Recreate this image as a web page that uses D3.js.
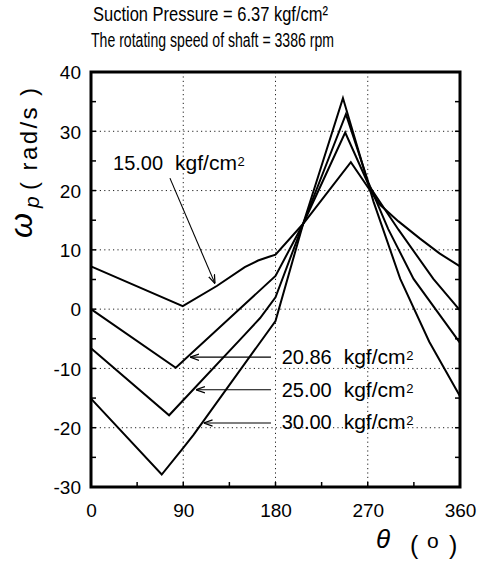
<!DOCTYPE html>
<html><head><meta charset="utf-8">
<script src="https://cdn.jsdelivr.net/npm/d3@7"></script>
<style>
html,body{margin:0;padding:0;background:#fff;}
svg{display:block;}
text{font-family:"Liberation Sans",Arial,Helvetica,sans-serif;fill:#000;}
</style></head>
<body>
<script>
// ---- data (theta in degrees, omega_p in rad/s) ----
const theta15 = [0, 89.5, 122.7, 150, 163, 173, 180, 207, 253.5, 270, 282, 300, 321, 340, 360];
const omega15 = [7.2, 0.5, 3.9, 7.1, 8.2, 8.8, 9.2, 14.4, 24.8, 20.6, 17.6, 14.8, 11.9, 9.4, 7.2];
const theta2086 = [0, 82.7, 180, 207, 248, 271, 300, 334, 360];
const omega2086 = [0, -9.9, 5.6, 14.4, 29.8, 20.9, 13.4, 5.1, -0.2];
const theta25 = [0, 76.2, 150, 165, 180, 207, 248.7, 271, 290, 314.7, 360];
const omega25 = [-6.6, -17.9, -4.3, -1.5, 2.0, 14.4, 32.9, 21.2, 13.5, 5.1, -5.7];
const theta30 = [0, 69, 90, 100, 180, 207, 245.8, 275.7, 301.7, 330, 360];
const omega30 = [-15.1, -27.9, -23.4, -21.2, -2.0, 14.4, 35.6, 18.1, 5.1, -5.5, -14.7];

const seriesNames = ["15.00", "20.86", "25.00", "30.00"];
const xTicks = [0, 90, 180, 270, 360];
const yTicks = [-30, -20, -10, 0, 10, 20, 30, 40];
const titleLines = ["Suction Pressure = 6.37 kgf/cm²", "The rotating speed of shaft = 3386 rpm"];

// annotation anchors in data units: [tailTheta, tailOmega, tipTheta, tipOmega, textTheta, textOmega]
const annot15 = [77, 22.1, 121, 4.3, 21.5, 23.5];
const annot2086 = [175.6, -8.1, 96.6, -8.1, 186, -9.3];
const annot25 = [175.6, -13.6, 102.4, -13.6, 186, -14.9];
const annot30 = [175.6, -19.2, 109.8, -19.2, 186, -20.3];

// ---- chart ----
const W = 485, H = 565;
const svg = d3.select("body").append("svg").attr("width", W).attr("height", H);
const x = d3.scaleLinear().domain([0, 360]).range([91, 460]);
const y = d3.scaleLinear().domain([-30, 40]).range([487, 72]);

// grid
const grid = svg.append("g").attr("stroke", "#222").attr("stroke-width", 1).attr("stroke-dasharray", "1.2,3.2");
grid.selectAll(".gx").data(xTicks.slice(1, -1)).join("line")
  .attr("x1", d => x(d)).attr("x2", d => x(d)).attr("y1", y(40)).attr("y2", y(-30));
grid.selectAll(".gy").data(yTicks.slice(1, -1)).join("line")
  .attr("x1", x(0)).attr("x2", x(360)).attr("y1", d => y(d)).attr("y2", d => y(d));

// ticks inside
const tk = svg.append("g").attr("stroke", "#000").attr("stroke-width", 1.5);
const yMinor = d3.range(-25, 40, 5);
tk.selectAll(".tl").data(yMinor).join("line")
  .attr("x1", x(0)).attr("x2", x(0) + 5).attr("y1", d => y(d)).attr("y2", d => y(d));
tk.selectAll(".tr").data(yMinor).join("line")
  .attr("x1", x(360)).attr("x2", x(360) - 5).attr("y1", d => y(d)).attr("y2", d => y(d));
const xMinor = d3.range(45, 360, 45);
tk.selectAll(".tb").data(xMinor).join("line")
  .attr("x1", d => x(d)).attr("x2", d => x(d)).attr("y1", y(-30)).attr("y2", y(-30) - 5);

// curves
const line = d3.line().x(d => x(d[0])).y(d => y(d[1]));
const series = [
  d3.zip(theta15, omega15), d3.zip(theta2086, omega2086),
  d3.zip(theta25, omega25), d3.zip(theta30, omega30)
];
svg.append("g").selectAll("path").data(series).join("path")
  .attr("d", line).attr("fill", "none").attr("stroke", "#000")
  .attr("stroke-width", 2).attr("stroke-linejoin", "miter");

// frame
svg.append("rect").attr("x", x(0)).attr("y", y(40))
  .attr("width", x(360) - x(0)).attr("height", y(-30) - y(40))
  .attr("fill", "none").attr("stroke", "#000").attr("stroke-width", 3);

// axes labels via d3 axes
const ax = svg.append("g").attr("transform", `translate(0,${y(-30)})`)
  .call(d3.axisBottom(x).tickValues(xTicks).tickSize(0).tickPadding(0).tickFormat(d3.format("d")));
ax.select(".domain").remove();
ax.selectAll("text").attr("font-size", 19).attr("font-family", "Liberation Sans, Arial, sans-serif")
  .attr("fill", "#000").attr("dy", null).attr("y", 30);

const ay = svg.append("g").attr("transform", `translate(${x(0)},0)`)
  .call(d3.axisLeft(y).tickValues(yTicks).tickSize(0).tickPadding(0).tickFormat(d => d < 0 ? "-" + Math.abs(d) : String(d)));
ay.select(".domain").remove();
ay.selectAll("text").attr("font-size", 19).attr("font-family", "Liberation Sans, Arial, sans-serif")
  .attr("fill", "#000").attr("x", -10).attr("dy", "0.36em");

// title
svg.append("text").attr("x", 93).attr("y", 21).attr("font-size", 20.5)
  .attr("textLength", 235).attr("lengthAdjust", "spacingAndGlyphs").text(titleLines[0]);
svg.append("text").attr("x", 91).attr("y", 47).attr("font-size", 20.5)
  .attr("textLength", 243).attr("lengthAdjust", "spacingAndGlyphs").text(titleLines[1]);

// y-axis title (rotated)
const yt = svg.append("g").attr("transform", "translate(0,238) rotate(-90)");
yt.append("text").attr("x", 0).attr("y", 32).attr("font-family", "Liberation Serif, DejaVu Serif, serif")
  .attr("font-style", "italic").attr("font-size", 32).text("ω");
yt.append("text").attr("x", 30).attr("y", 39).attr("font-family", "Liberation Serif, DejaVu Serif, serif")
  .attr("font-style", "italic").attr("font-size", 21).text("p");
yt.append("text").attr("x", 48).attr("y", 37).attr("font-size", 24)
  .attr("textLength", 102).attr("lengthAdjust", "spacing").text("( rad/s )");

// x-axis title
svg.append("text").attr("x", 376).attr("y", 548).attr("font-family", "Liberation Serif, DejaVu Serif, serif")
  .attr("font-style", "italic").attr("font-size", 26).text("θ");
svg.append("text").attr("x", 410).attr("y", 554).attr("font-size", 25).text("(");
svg.append("text").attr("x", 427).attr("y", 548).attr("font-size", 21).text("o");
svg.append("text").attr("x", 449).attr("y", 554).attr("font-size", 25).text(")");

// annotations
const defs = svg.append("defs");
defs.append("marker").attr("id", "ah").attr("viewBox", "0 0 10 10").attr("refX", 10).attr("refY", 5)
  .attr("markerWidth", 9).attr("markerHeight", 9).attr("markerUnits", "userSpaceOnUse").attr("orient", "auto")
  .append("path").attr("d", "M0,1.5 L10,5 L0,8.5").attr("fill", "none").attr("stroke", "#000").attr("stroke-width", 1.4);

const annots = [annot15, annot2086, annot25, annot30];
const ag = svg.append("g");
annots.forEach((a, i) => {
  ag.append("line").attr("x1", x(a[0])).attr("y1", y(a[1])).attr("x2", x(a[2])).attr("y2", y(a[3]))
    .attr("stroke", "#000").attr("stroke-width", 1.1).attr("marker-end", "url(#ah)");
  const tx = x(a[4]), ty = y(a[5]);
  ag.append("text").attr("x", tx).attr("y", ty).attr("font-size", 20).text(seriesNames[i]);
  ag.append("text").attr("x", tx + 62).attr("y", ty).attr("font-size", 20)
    .attr("textLength", 62).attr("lengthAdjust", "spacingAndGlyphs").text("kgf/cm");
  ag.append("text").attr("x", tx + 124.5).attr("y", ty - 4).attr("font-size", 13).text("2");
});
</script>
</body></html>
